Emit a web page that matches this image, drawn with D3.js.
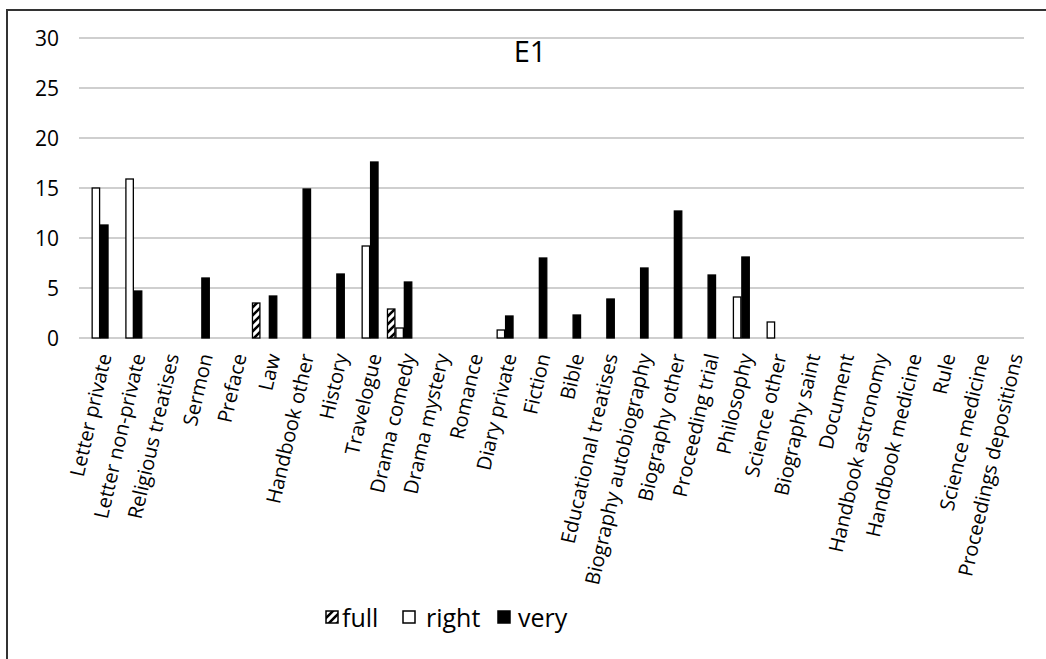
<!doctype html>
<html>
<head>
<meta charset="utf-8">
<style>
  body { margin: 0; background: #fff; font-family: 'Open Sans', sans-serif; }
  svg { display: block; }
  text { fill: #000; }
  .grid line { stroke: #cfcfcf; stroke-width: 2; }
  .ylab { font-size: 21px; }
  .xlab { font-size: 20px; }
  .title { font-size: 29px; }
  .legend text { font-size: 25px; }
</style>
<script src="https://d3js.org/d3.v7.min.js"></script>
</head>
<body>
<svg width="1046" height="659"></svg>
<script>
const categories = ['Letter private', 'Letter non-private', 'Religious treatises', 'Sermon', 'Preface',
  'Law', 'Handbook other', 'History', 'Travelogue', 'Drama comedy', 'Drama mystery', 'Romance',
  'Diary private', 'Fiction', 'Bible', 'Educational treatises', 'Biography autobiography',
  'Biography other', 'Proceeding trial', 'Philosophy', 'Science other', 'Biography saint',
  'Document', 'Handbook astronomy', 'Handbook medicine', 'Rule', 'Science medicine',
  'Proceedings depositions'];
const seriesNames = ['full', 'right', 'very'];
const full  = [0, 0, 0, 0, 0, 3.5, 0, 0, 0, 2.9, 0, 0, 0, 0, 0, 0, 0, 0, 0, 0, 0, 0, 0, 0, 0, 0, 0, 0];
const right = [15, 15.9, 0, 0, 0, 0, 0, 0, 9.2, 1.0, 0, 0, 0.8, 0, 0, 0, 0, 0, 0, 4.1, 1.6, 0, 0, 0, 0, 0, 0, 0];
const very  = [11.3, 4.7, 0, 6.0, 0, 4.2, 14.9, 6.4, 17.6, 5.6, 0, 0, 2.2, 8.0, 2.3, 3.9, 7.0, 12.7, 6.3, 8.1, 0, 0, 0, 0, 0, 0, 0, 0];
const yTicks = [0, 5, 10, 15, 20, 25, 30];
const title = 'E1';

const seriesData = { full: full, right: right, very: very };

const svg = d3.select('svg');

// pattern for the "full" series
const defs = svg.append('defs');
const pat = defs.append('pattern')
  .attr('id', 'hatch')
  .attr('patternUnits', 'userSpaceOnUse')
  .attr('width', 8).attr('height', 8);
pat.append('rect').attr('width', 8).attr('height', 8).attr('fill', '#fff');
pat.append('path')
  .attr('d', 'M-2,10 L10,-2 M-2,2 L2,-2 M6,10 L10,6')
  .attr('stroke', '#000').attr('stroke-width', 2.6);

const fills = { full: 'url(#hatch)', right: '#fff', very: '#000' };

// frame (left + top)
svg.append('path')
  .attr('d', 'M7,659 L7,10 L1046,10')
  .attr('fill', 'none')
  .attr('stroke', '#333')
  .attr('stroke-width', 2);

const x0 = d3.scaleBand()
  .domain(categories)
  .range([79, 1024])
  .paddingInner(0.25)
  .paddingOuter(0.125);

const x1 = d3.scaleBand()
  .domain(seriesNames)
  .range([0, x0.bandwidth()]);

const y = d3.scaleLinear()
  .domain([0, 30])
  .range([338, 38]);

// gridlines
svg.append('g')
  .attr('class', 'grid')
  .selectAll('line')
  .data(yTicks)
  .join('line')
  .attr('x1', 79).attr('x2', 1024)
  .attr('y1', d => y(d)).attr('y2', d => y(d));

// y labels
svg.append('g')
  .selectAll('text')
  .data(yTicks)
  .join('text')
  .attr('class', 'ylab')
  .attr('x', 59)
  .attr('y', d => y(d))
  .attr('dy', '0.36em')
  .attr('text-anchor', 'end')
  .text(d => d);

// bars
const rows = [];
categories.forEach((c, i) => {
  seriesNames.forEach(s => {
    if (seriesData[s][i] > 0) rows.push({ cat: c, s: s, v: seriesData[s][i] });
  });
});

svg.append('g')
  .selectAll('rect')
  .data(rows)
  .join('rect')
  .attr('x', d => x0(d.cat) + x1(d.s) + 0.5)
  .attr('y', d => y(d.v))
  .attr('width', x1.bandwidth() - 1)
  .attr('height', d => y(0) - y(d.v))
  .attr('fill', d => fills[d.s])
  .attr('stroke', '#000')
  .attr('stroke-width', 1.3);

// category labels
svg.append('g')
  .selectAll('text')
  .data(categories)
  .join('text')
  .attr('class', 'xlab')
  .attr('text-anchor', 'end')
  .attr('transform', d => `translate(${x0(d) + x0.bandwidth() / 2 + 9}, 354) rotate(-77)`)
  .attr('dy', '0.35em')
  .text(d => d);

// title
svg.append('text')
  .attr('class', 'title')
  .attr('x', 530)
  .attr('y', 62)
  .attr('text-anchor', 'middle')
  .text(title);

// legend
const legendSwatchX = [325, 402, 497];
const legendTextX = [342, 426, 518];
const legend = svg.append('g').attr('class', 'legend');
seriesNames.forEach((s, i) => {
  legend.append('rect')
    .attr('x', legendSwatchX[i] + 1).attr('y', 611)
    .attr('width', 12).attr('height', 12)
    .attr('fill', fills[s])
    .attr('stroke', '#000').attr('stroke-width', 1.5);
  legend.append('text')
    .attr('x', legendTextX[i])
    .attr('y', 627)
    .text(s);
});
</script>
</body>
</html>
